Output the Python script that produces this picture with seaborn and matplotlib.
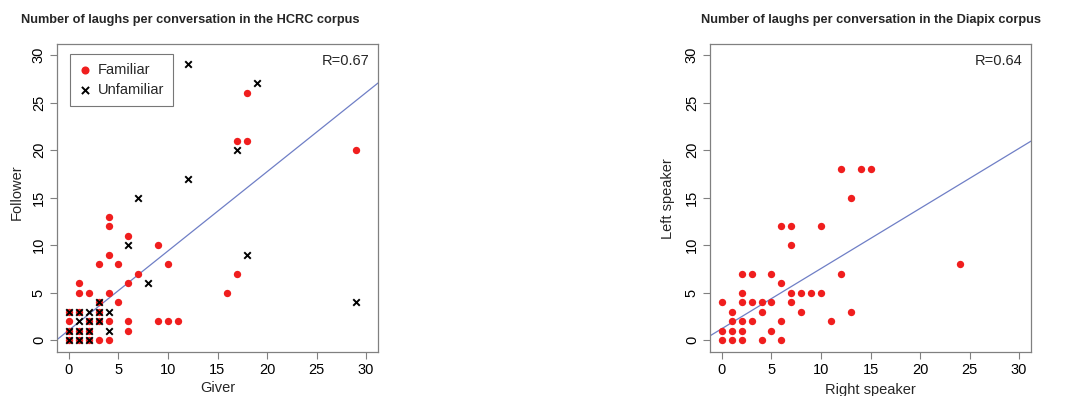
import numpy as np
import pandas as pd
import matplotlib
matplotlib.use("Agg")
import matplotlib.pyplot as plt
import seaborn as sns
from matplotlib import font_manager

# ---------------- data ----------------
# HCRC corpus: (giver, follower)
fam_giver = [29, 18, 17, 18, 17, 16, 4, 4, 6, 4, 9, 3, 5, 10, 7, 6, 1, 1, 2, 4, 5, 3,
             6, 9, 10, 11, 6, 4,
             0, 1, 3, 0, 2, 3, 0, 1, 2, 0, 1, 2, 3, 4]
fam_follower = [20, 26, 21, 21, 7, 5, 13, 12, 11, 9, 10, 8, 8, 8, 7, 6, 6, 5, 5, 5, 4, 4,
                2, 2, 2, 2, 1, 2,
                3, 3, 3, 2, 2, 2, 1, 1, 1, 0, 0, 0, 0, 0]
unf_giver = [12, 19, 17, 12, 7, 6, 8, 18, 29, 3,
             0, 1, 2, 3, 4, 1, 2, 3, 0, 1, 2, 4, 0, 1, 2]
unf_follower = [29, 27, 20, 17, 15, 10, 6, 9, 4, 4,
                3, 3, 3, 3, 3, 2, 2, 2, 1, 1, 1, 1, 0, 0, 0]

# Diapix corpus: (right speaker, left speaker)
dia_right = [12, 14, 15, 13, 6, 7, 10, 7, 24, 2, 3, 5, 12, 6, 2, 7, 8, 9, 10,
             0, 2, 3, 4, 5, 7, 1, 4, 8, 13, 1, 2, 3, 6, 11, 0, 1, 2, 5,
             0, 1, 2, 4, 6]
dia_left = [18, 18, 18, 15, 12, 12, 12, 10, 8, 7, 7, 7, 7, 6, 5, 5, 5, 5, 5,
            4, 4, 4, 4, 4, 4, 3, 3, 3, 3, 2, 2, 2, 2, 2, 1, 1, 1, 1,
            0, 0, 0, 0, 0]

# regression lines (intercept, slope)
hcrc_fit = [1.06, 0.833]
dia_fit = [1.22, 0.632]
r_labels = ["R=0.67", "R=0.64"]
titles = ["Number of laughs per conversation in the HCRC corpus",
          "Number of laughs per conversation in the Diapix corpus"]
xlabels = ["Giver", "Right speaker"]
ylabels = ["Follower", "Left speaker"]
ticks = [0, 5, 10, 15, 20, 25, 30]
group_names = ["Familiar", "Unfamiliar"]

# ---------------- style ----------------
sns.set_theme(style="white")
plt.rcParams["font.family"] = ["Liberation Sans", "DejaVu Sans"]

installed = {f.name for f in font_manager.fontManager.ttflist}
if "Liberation Sans Narrow" in installed:
    title_font = dict(family=["Liberation Sans Narrow", "Liberation Sans"], fontsize=11.5)
else:
    title_font = dict(family=["Liberation Sans", "DejaVu Sans"], fontsize=9.2)

RED = "#f01e1e"
LINE = "#6f7fc6"
BOX = "#808080"

hcrc = pd.concat([
    pd.DataFrame({"x": fam_giver, "y": fam_follower, "group": group_names[0]}),
    pd.DataFrame({"x": unf_giver, "y": unf_follower, "group": group_names[1]}),
])
dia = pd.DataFrame({"x": dia_right, "y": dia_left})

fig = plt.figure(figsize=(10.66, 3.96), dpi=100)
ax1 = fig.add_axes([57 / 1066, 0.112, 321 / 1066, 0.778])
ax2 = fig.add_axes([710 / 1066, 0.112, 321 / 1066, 0.778])

sns.scatterplot(data=hcrc[hcrc.group == group_names[0]], x="x", y="y", ax=ax1,
                color=RED, marker="o", s=28, linewidth=0, label=group_names[0], zorder=3)
sns.scatterplot(data=hcrc[hcrc.group == group_names[1]], x="x", y="y", ax=ax1,
                color="black", marker="x", s=22, linewidth=1.4, label=group_names[1], zorder=4)
sns.scatterplot(data=dia, x="x", y="y", ax=ax2, color=RED, marker="o", s=28,
                linewidth=0, zorder=3)

for ax, fit, r in [(ax1, hcrc_fit, r_labels[0]), (ax2, dia_fit, r_labels[1])]:
    ax.axline((0, fit[0]), slope=fit[1], color=LINE, lw=0.9, zorder=2)
    ax.set_xlim(-1.2, 31.2)
    ax.set_ylim(-1.2, 31.2)
    ax.set_xticks(ticks)
    ax.set_yticks(ticks)
    ax.tick_params(axis="both", direction="out", length=5, width=0.8, color=BOX,
                   labelsize=10.5, labelcolor="black", pad=3,
                   bottom=True, left=True)
    for lab in ax.get_yticklabels():
        lab.set_rotation(90)
        lab.set_va("center")
    for sp in ax.spines.values():
        sp.set_color(BOX)
        sp.set_linewidth(0.9)
    ax.set_xlabel("")
    ax.set_ylabel("")
    ax.text(0.975, 0.965, r, transform=ax.transAxes, ha="right", va="top", fontsize=10.5)

leg = ax1.legend(loc="upper left", bbox_to_anchor=(0.04, 0.965), fontsize=10.5,
                 frameon=True, fancybox=False, edgecolor="#555555",
                 handletextpad=0.4, borderpad=0.6, labelspacing=0.4,
                 handlelength=0.9, borderaxespad=0, markerscale=1.1)
leg.get_frame().set_linewidth(0.8)

# titles and axis labels
fig.text(190 / 1066, 1 - 20 / 396, titles[0], ha="center", va="center",
         fontweight="bold", **title_font)
fig.text(871 / 1066, 1 - 20 / 396, titles[1], ha="center", va="center",
         fontweight="bold", **title_font)
fig.text(218 / 1066, 1 - 388 / 396, xlabels[0], ha="center", va="center", fontsize=10.5)
fig.text(870 / 1066, 1 - 390 / 396, xlabels[1], ha="center", va="center", fontsize=10.5)
fig.text(17 / 1066, 1 - 192 / 396, ylabels[0], ha="center", va="center",
         rotation=90, fontsize=10.5)
fig.text(668 / 1066, 1 - 199 / 396, ylabels[1], ha="center", va="center",
         rotation=90, fontsize=10.5)

fig.savefig("out.png", dpi=100)
